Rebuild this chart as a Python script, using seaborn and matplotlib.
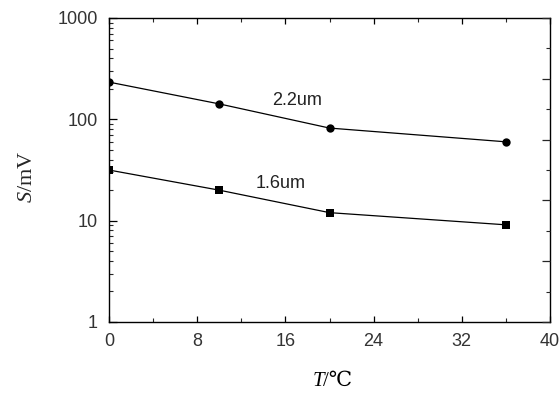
import numpy as np
import pandas as pd
import matplotlib
matplotlib.use("Agg")
import matplotlib.pyplot as plt
import seaborn as sns
from matplotlib.ticker import MultipleLocator, LogLocator, NullFormatter, FixedLocator

# Data
temps = [0, 10, 20, 36]
s_22um = [233, 142, 82, 60]
s_16um = [31.6, 20, 12, 9.1]
series_names = ["2.2um", "1.6um"]
x_ticks = [0, 8, 16, 24, 32, 40]
y_ticks = [1, 10, 100, 1000]

sns.set_style("ticks")
plt.rcParams["font.family"] = ["Liberation Sans", "DejaVu Sans"]
plt.rcParams["mathtext.fontset"] = "custom"
plt.rcParams["mathtext.rm"] = "Liberation Serif"
plt.rcParams["mathtext.it"] = "Liberation Serif:italic"

df = pd.DataFrame({
    "T": temps * 2,
    "S": s_22um + s_16um,
    "series": [series_names[0]] * len(temps) + [series_names[1]] * len(temps),
})

W, H = 559, 396
fig = plt.figure(figsize=(W / 100, H / 100), dpi=100)
ax = fig.add_axes([109 / W, 1 - 322 / H, 441 / W, 304 / H])

sns.lineplot(data=df, x="T", y="S", hue="series", style="series",
             markers={"2.2um": "o", "1.6um": "s"}, dashes=False,
             palette={"2.2um": "black", "1.6um": "black"},
             markersize=6, linewidth=0.9, markeredgewidth=0,
             legend=False, ax=ax)

ax.set_yscale("log")
ax.set_xlim(0, 40)
ax.set_ylim(1, 1000)
ax.xaxis.set_major_locator(FixedLocator(x_ticks))
ax.xaxis.set_minor_locator(MultipleLocator(4))
ax.set_xticklabels([str(v) for v in x_ticks])
ax.yaxis.set_major_locator(FixedLocator(y_ticks))
ax.set_yticklabels([str(v) for v in y_ticks])
ax.yaxis.set_minor_locator(LogLocator(base=10, subs=np.arange(2, 10)))
ax.yaxis.set_minor_formatter(NullFormatter())

for sp in ax.spines.values():
    sp.set_visible(True)
    sp.set_linewidth(1.0)
    sp.set_color("black")

ax.tick_params(axis="both", which="major", direction="in", width=0.9,
               labelsize=13, colors="black")
ax.tick_params(axis="both", which="minor", direction="in", length=3, width=0.8)
ax.tick_params(axis="x", which="both", top=True, labeltop=False)
ax.tick_params(axis="x", which="major", length=4, pad=8)
ax.tick_params(axis="y", which="major", length=6, pad=8)
for lab in ax.get_xticklabels() + ax.get_yticklabels():
    lab.set_color("#333333")

# right axis ticks
ax2 = ax.twinx()
ax2.set_ylim(0, 10)
ax2.yaxis.set_major_locator(MultipleLocator(2))
ax2.yaxis.set_minor_locator(MultipleLocator(1))
ax2.tick_params(axis="y", which="major", direction="in", length=6, width=0.9, labelright=False)
ax2.tick_params(axis="y", which="minor", direction="in", length=3, width=0.8)
for sp in ax2.spines.values():
    sp.set_visible(False)

ax.text(17.1, 155, series_names[0], fontsize=13, ha="center", va="center", color="#222222")
ax.text(15.6, 23.5, series_names[1], fontsize=13, ha="center", va="center", color="#222222")

# y label
ax.set_ylabel(r"$S$/mV", fontsize=16, family=["Liberation Serif", "DejaVu Serif"])
ax.yaxis.set_label_coords(-0.163, 0.477)
ax.set_xlabel("")

# x label: italic T + "/℃"
serif = ["Liberation Serif", "DejaVu Serif"]
fig.text(324 / W, 1 - 381 / H, "T", fontsize=15, family=serif, style="italic",
         ha="right", va="center", color="black")
fig.text(323 / W, 1 - 381 / H, "/℃", fontsize=15, family=serif,
         ha="left", va="center", color="black")

fig.savefig("out.png", dpi=100)
